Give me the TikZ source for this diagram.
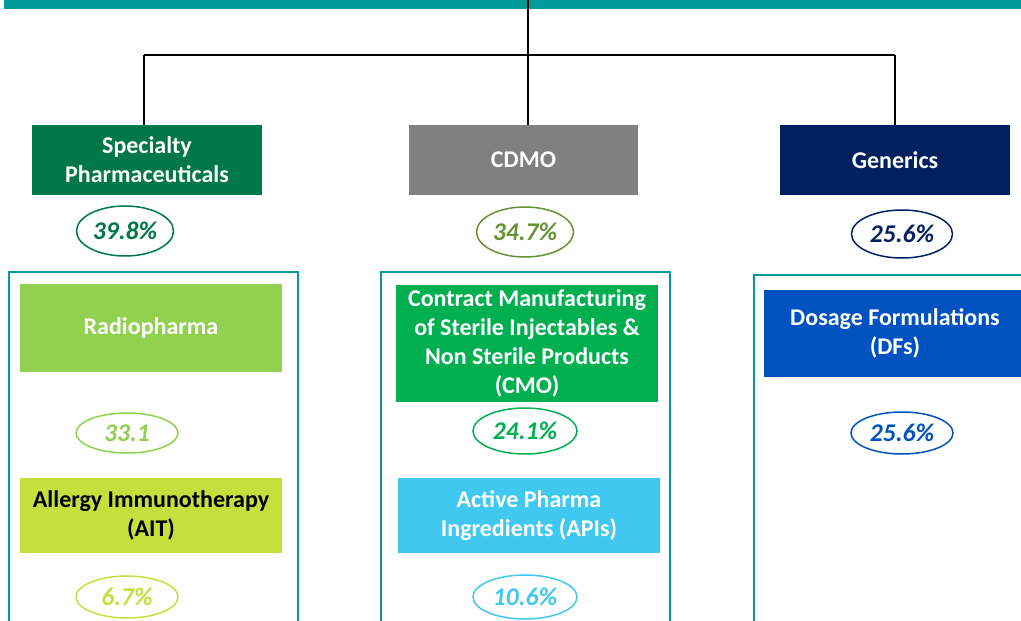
\documentclass[tikz,border=0pt]{standalone}
\usepackage{fontspec}
\setmainfont{Carlito}
\usetikzlibrary{shapes.geometric}
\definecolor{teal}{RGB}{0,154,154}
\definecolor{spgreen}{RGB}{0,119,73}
\definecolor{cdgray}{RGB}{128,128,128}
\definecolor{gnavy}{RGB}{0,32,96}
\definecolor{radio}{RGB}{146,208,80}
\definecolor{ait}{RGB}{197,224,60}
\definecolor{cmo}{RGB}{0,176,80}
\definecolor{api}{RGB}{65,200,240}
\definecolor{dfs}{RGB}{0,82,192}
\tikzset{
  box/.style={rectangle, inner sep=0pt, align=center, font=\bfseries\fontsize{24}{29}\selectfont, text=white},
  pct/.style={ellipse, draw=#1, line width=1.5pt, text=#1, inner sep=0pt, font=\bfseries\itshape\fontsize{25.5}{28}\selectfont},
  conn/.style={line width=2pt, black},
  panel/.style={draw=teal, line width=1.5pt}
}
\begin{document}
\begin{tikzpicture}[x=1pt,y=-1pt]
\useasboundingbox (0,0) rectangle (1021,621);
\fill[teal] (4,0) rectangle (1021,9);
\coordinate (topj) at (528,0);
\coordinate (mid) at (528,55);
\coordinate (lj) at (144,55);
\coordinate (rj) at (895,55);
% headers
\node[box, fill=spgreen, minimum width=230pt, minimum height=70pt] (sp) at (147,160) {Specialty\\Pharmaceuticals};
\node[box, fill=cdgray, minimum width=229pt, minimum height=70pt] (cd) at (523.5,160) {CDMO};
\node[box, fill=gnavy, minimum width=230pt, minimum height=70pt] (gn) at (895,160) {Generics};
% connectors
\draw[conn] (topj) -- (mid);
\draw[conn] (lj) -- (rj);
\draw[conn] (mid) -- (mid |- cd.north);
\draw[conn] (lj) -- (lj |- sp.north);
\draw[conn] (rj) -- (rj |- gn.north);
% top percentages
\node[pct=spgreen, minimum width=97pt, minimum height=50pt] (p1) at (125,231) {39.8\%};
\node[pct=radio!70!black, minimum width=97pt, minimum height=50pt] (p2) at (525,232) {34.7\%};
\node[pct=gnavy, minimum width=101pt, minimum height=48pt] (p3) at (902,234) {25.6\%};
% panels
\draw[panel] (9,625) -- (9,272) -- (298,272) -- (298,625);
\draw[panel] (381,625) -- (381,272) -- (670,272) -- (670,625);
\draw[panel] (754,625) -- (754,275) -- (1025,275);
% left panel
\node[box, fill=radio, minimum width=262pt, minimum height=88pt] (rad) at (151,328) {Radiopharma};
\node[pct=radio, minimum width=102pt, minimum height=40pt] (p4) at (127,433) {33.1};
\node[box, fill=ait, text=black, minimum width=262pt, minimum height=75pt] (ai) at (151,515.5) {Allergy Immunotherapy\\(AIT)};
\node[pct=ait, minimum width=102pt, minimum height=42pt] (p5) at (127,597) {6.7\%};
% middle panel
\node[box, fill=cmo, minimum width=262pt, minimum height=117pt] (cm) at (527,343) {Contract Manufacturing\\of Sterile Injectables \&\\Non Sterile Products\\(CMO)};
\node[pct=cmo, minimum width=104pt, minimum height=46pt] (p6) at (525,431) {24.1\%};
\node[box, fill=api, minimum width=262pt, minimum height=75pt] (ap) at (529,515.5) {Active Pharma\\Ingredients (APIs)};
\node[pct=api, minimum width=104pt, minimum height=44pt] (p7) at (525,597) {10.6\%};
% right panel
\node[box, fill=dfs, minimum width=262pt, minimum height=87pt] (df) at (895,333.5) {Dosage Formulations\\(DFs)};
\node[pct=dfs, minimum width=102pt, minimum height=42pt] (p8) at (902,433) {25.6\%};
\end{tikzpicture}
\end{document}
